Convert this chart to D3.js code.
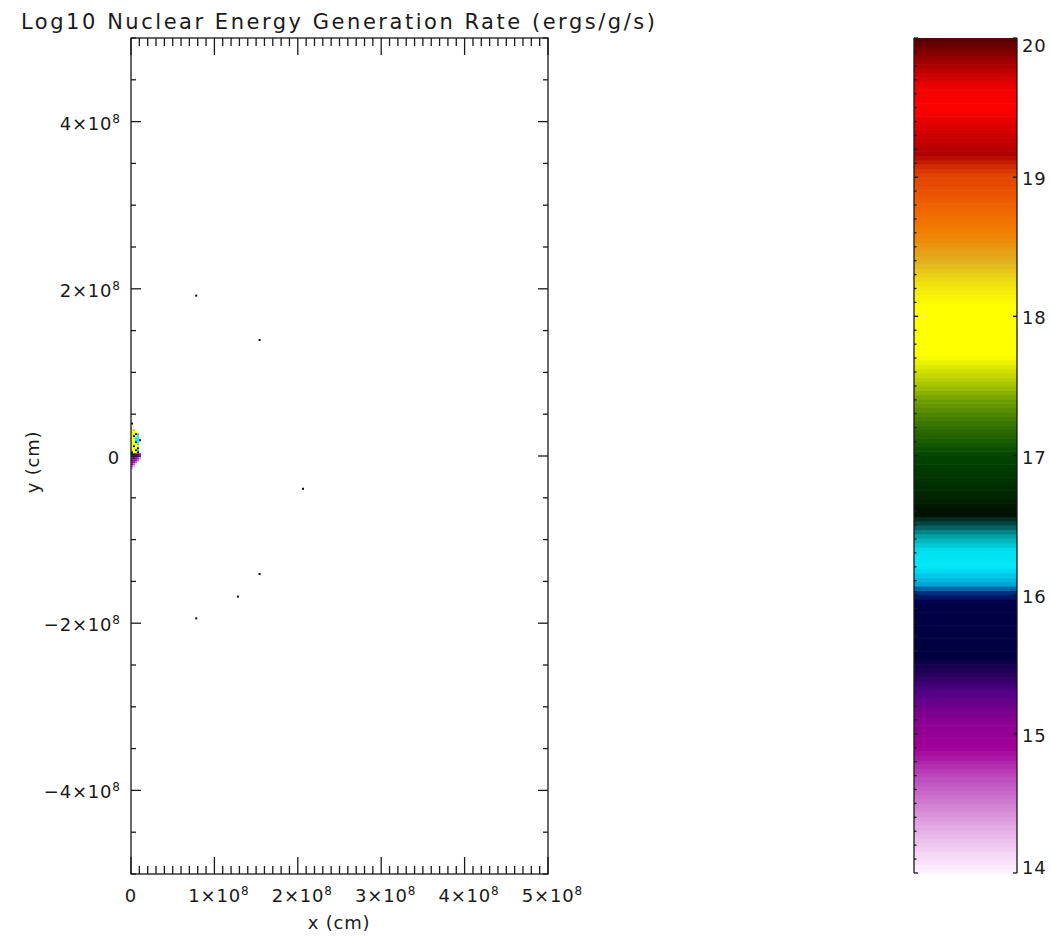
<!DOCTYPE html>
<html>
<head>
<meta charset="utf-8">
<script src="https://cdn.jsdelivr.net/npm/d3@7"></script>
<style>
  html, body { margin: 0; padding: 0; background: #fff; }
  svg text { font-family: "DejaVu Sans", "Liberation Sans", sans-serif; fill: #1a1a1a; }
</style>
</head>
<body>
<svg id="chart" width="1050" height="937"></svg>
<script>
// Domain of the map (cm)
const xDomain = [0, 5e8];
const yDomain = [-5e8, 5e8];

// Tick values and their labels
const xMajorTicks = [0, 1e8, 2e8, 3e8, 4e8, 5e8];
const xTickMantissa = ["0", "1", "2", "3", "4", "5"];
const yMajorTicks = [-4e8, -2e8, 0, 2e8, 4e8];
const yTickMantissa = ["−4", "−2", "0", "2", "4"];
const cbarTicks = [14, 15, 16, 17, 18, 19, 20];

// Colour table: log10 rate -> colour
const stopValues = [14.0, 14.15, 14.4, 14.7, 14.9, 15.1, 15.3, 15.45, 15.55, 15.95, 16.02, 16.08, 16.2, 16.32, 16.42, 16.5, 16.58, 16.75, 17.0, 17.2, 17.4, 17.55, 17.72, 18.08, 18.25, 18.4, 18.6, 18.8, 19.03, 19.17, 19.3, 19.5, 19.65, 19.84, 20.0];
const stopColors = ["#fff2ff", "#f4d4f4", "#dc98dc", "#bc48bc", "#a20098", "#8a0090", "#540088", "#220058", "#000040", "#000048", "#003080", "#00a8d8", "#00e8f8", "#00e0f0", "#00a4a8", "#005454", "#001000", "#002a00", "#004600", "#306e00", "#70a000", "#b8d000", "#ffff00", "#ffff00", "#f0e010", "#e0b020", "#f08000", "#f06000", "#e04000", "#b00000", "#cc0000", "#ff0000", "#f00000", "#a00000", "#500000"];

// Burning region near the origin, one row per y (cm), columns at coreX (cm)
const coreX = [0, 2.4e6, 4.8e6, 7.2e6, 9.6e6];
const coreRowsY = [4.0e7, 3.2e7, 2.96e7, 2.72e7, 2.48e7, 2.24e7, 2.0e7, 1.76e7, 1.52e7, 1.28e7, 1.04e7, 0.8e7, 0.56e7, 0.32e7, 0.08e7, -0.16e7, -0.4e7, -0.64e7, -0.88e7, -1.12e7, -1.36e7];
const coreRowsValues = [
  [16.58],
  [17.9, 17.6],
  [18.0, 17.9, 17.8],
  [17.9, 18.1, 16.6, 16.3],
  [18.0, 16.6, 17.9, 16.2],
  [17.8, 18.0, 16.3, 16.2],
  [18.0, 17.9, 16.2, 16.3, 16.6],
  [17.9, 18.0, 16.7, 16.2],
  [18.0, 17.8, 17.9, 16.3],
  [17.9, 16.6, 18.0, 17.9],
  [18.0, 17.9, 17.8, 16.6],
  [17.9, 18.0, 16.6, 16.2],
  [16.6, 17.9, 18.0, 15.5],
  [15.5, 16.6, 15.3, 15.2, 14.9],
  [15.3, 15.4, 15.2, 15.0, 14.6],
  [15.2, 15.4, 15.1, 14.8, 14.4],
  [15.3, 15.1, 14.9, 14.6],
  [15.1, 14.9, 14.6],
  [14.9, 14.6],
  [14.6, 14.3],
  [14.3]
];
const cellSize = 2.4e6;

// Isolated hot spots away from the core: [x (cm), y (cm), log10 rate]
const sparkX = [0.77e8, 1.53e8, 2.05e8, 1.53e8, 1.27e8, 0.77e8];
const sparkY = [1.93e8, 1.40e8, -0.38e8, -1.40e8, -1.67e8, -1.93e8];
const sparkValues = [16.58, 16.58, 16.58, 16.58, 16.58, 16.58];
const sparkSize = 2.4e6;

const svg = d3.select("#chart");

const x = d3.scaleLinear().domain(xDomain).range([131, 548]);
const y = d3.scaleLinear().domain(yDomain).range([874, 38]);
const color = d3.scaleLinear().domain(stopValues).range(stopColors).interpolate(d3.interpolateRgb).clamp(true);

// Map cells
const cells = [];
coreRowsY.forEach((yy, i) => {
  coreRowsValues[i].forEach((v, j) => cells.push({x: coreX[j], y: yy, v: v, s: cellSize}));
});
sparkX.forEach((xx, i) => cells.push({x: xx, y: sparkY[i], v: sparkValues[i], s: sparkSize}));

svg.append("g").selectAll("rect")
  .data(cells.filter(d => d.v >= 14 && d.v <= 20))
  .join("rect")
  .attr("x", d => x(d.x))
  .attr("y", d => y(d.y))
  .attr("width", d => x(d.x + d.s) - x(d.x))
  .attr("height", d => y(d.y - d.s) - y(d.y))
  .attr("fill", d => color(d.v));

// Axes (ticks on all four sides, drawn inward)
const xMinor = d3.range(0, 5e8 + 1, 1e7);
const yMinor = d3.range(-5e8, 5e8 + 1, 5e7);
const axisG = svg.append("g").attr("stroke", "#1a1a1a").attr("stroke-width", 1.3).attr("fill", "none");

axisG.append("rect")
  .attr("x", x(0)).attr("y", y(5e8))
  .attr("width", x(5e8) - x(0)).attr("height", y(-5e8) - y(5e8));

const isXMajor = v => Math.abs(v / 1e8 - Math.round(v / 1e8)) < 1e-6;
const isYMajor = v => Math.abs(v / 2e8 - Math.round(v / 2e8)) < 1e-6;

axisG.selectAll(".xb").data(xMinor).join("line")
  .attr("x1", d => x(d)).attr("x2", d => x(d))
  .attr("y1", y(-5e8)).attr("y2", d => y(-5e8) - (isXMajor(d) ? 17 : 8));
axisG.selectAll(".xt").data(xMinor).join("line")
  .attr("x1", d => x(d)).attr("x2", d => x(d))
  .attr("y1", y(5e8)).attr("y2", d => y(5e8) + (isXMajor(d) ? 17 : 8));
axisG.selectAll(".yl").data(yMinor).join("line")
  .attr("y1", d => y(d)).attr("y2", d => y(d))
  .attr("x1", x(0)).attr("x2", d => x(0) + (isYMajor(d) ? 10 : 5));
axisG.selectAll(".yr").data(yMinor).join("line")
  .attr("y1", d => y(d)).attr("y2", d => y(d))
  .attr("x1", x(5e8)).attr("x2", d => x(5e8) - (isYMajor(d) ? 10 : 5));

// Tick labels in the form m×10^8
function sciLabel(sel, mant, v) {
  if (v === 0) { sel.append("tspan").text("0"); return; }
  sel.append("tspan").text(mant + "×10");
  sel.append("tspan").attr("dy", -7).attr("font-size", 12).attr("letter-spacing", 0).text("8");
}
svg.append("g").selectAll("text").data(xMajorTicks).join("text")
  .attr("x", d => x(d) + (d === 0 ? 0 : 4))
  .attr("y", 902)
  .attr("text-anchor", "middle")
  .attr("font-size", 18)
  .attr("letter-spacing", 0.8)
  .each(function(d, i) { sciLabel(d3.select(this), xTickMantissa[i], d); });

svg.append("g").selectAll("text").data(yMajorTicks).join("text")
  .attr("x", 120)
  .attr("y", d => y(d) + 8)
  .attr("text-anchor", "end")
  .attr("font-size", 18)
  .attr("letter-spacing", 0.8)
  .each(function(d, i) { sciLabel(d3.select(this), yTickMantissa[i], d); });

// Axis titles
svg.append("text").attr("x", 339).attr("y", 929).attr("text-anchor", "middle")
  .attr("font-size", 18).attr("letter-spacing", 0.8).text("x (cm)");
svg.append("text").attr("transform", "translate(39,462) rotate(-90)").attr("text-anchor", "middle")
  .attr("font-size", 18).attr("letter-spacing", 0.8).text("y (cm)");

// Title
svg.append("text").attr("x", 21).attr("y", 29).attr("font-size", 21)
  .attr("textLength", 634).attr("lengthAdjust", "spacing")
  .text("Log10 Nuclear Energy Generation Rate (ergs/g/s)");

// Colour bar
const cb = d3.scaleLinear().domain([14, 20]).range([873, 38]);
const cbX0 = 914, cbX1 = 1017;
const nBands = 192;
const bandStep = 6 / nBands;
const bands = d3.range(nBands).map(i => 14 + i * bandStep);
svg.append("g").selectAll("rect").data(bands).join("rect")
  .attr("x", cbX0).attr("width", cbX1 - cbX0)
  .attr("y", d => cb(d + bandStep))
  .attr("height", d => cb(d) - cb(d + bandStep) + 0.6)
  .attr("fill", d => color(d + bandStep / 2));

const cbG = svg.append("g").attr("stroke", "#1a1a1a").attr("stroke-width", 1.3);
cbG.append("line").attr("x1", cbX0).attr("x2", cbX0).attr("y1", cb(14)).attr("y2", cb(20));
cbG.append("line").attr("x1", cbX1).attr("x2", cbX1).attr("y1", cb(14)).attr("y2", cb(20));
const cbMinor = d3.range(14, 20.001, 0.1);
cbG.selectAll(".cbl").data(cbMinor).join("line")
  .attr("x1", cbX0).attr("x2", d => cbX0 + (Math.abs(d - Math.round(d)) < 1e-6 ? 4 : 2.5))
  .attr("y1", d => cb(d)).attr("y2", d => cb(d));
cbG.selectAll(".cbr").data(cbarTicks).join("line")
  .attr("x1", cbX1).attr("x2", cbX1 - 4)
  .attr("y1", d => cb(d)).attr("y2", d => cb(d));

svg.append("g").selectAll("text").data(cbarTicks).join("text")
  .attr("x", 1022)
  .attr("y", d => cb(d) + (d === 20 ? 14 : d === 14 ? 1 : 8))
  .attr("font-size", 18)
  .attr("letter-spacing", 0.8)
  .text(d => d);
</script>
</body>
</html>
